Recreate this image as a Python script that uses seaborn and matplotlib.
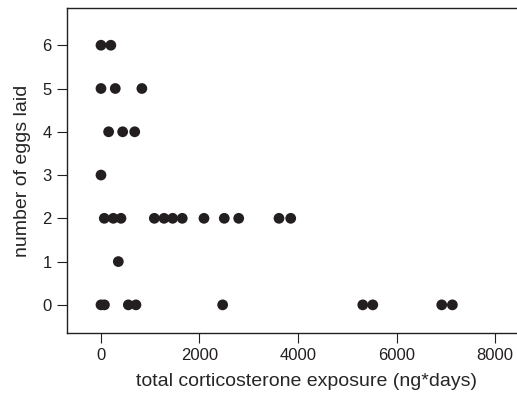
import numpy as np
import pandas as pd
import seaborn as sns
import matplotlib.pyplot as plt

sns.set_style('ticks')
plt.rcParams['font.family'] = ['Liberation Sans', 'DejaVu Sans']

# corticosterone exposure (ng*days) and eggs laid
exposure = [0, 200,
            0, 290, 830,
            155, 440, 685,
            0,
            67, 250, 406, 1083, 1280, 1455, 1650, 2091, 2503, 2796, 3614, 3852,
            352,
            0, 70, 555, 710, 2470, 5315, 5518, 6918, 7134]
eggs = [6, 6,
        5, 5, 5,
        4, 4, 4,
        3,
        2, 2, 2, 2, 2, 2, 2, 2, 2, 2, 2, 2,
        1,
        0, 0, 0, 0, 0, 0, 0, 0, 0]

df = pd.DataFrame({'exposure': exposure, 'eggs': eggs})

fig = plt.figure(figsize=(5.17, 3.93), dpi=100)
# the frame runs past the right edge of the image, as in the original
ax = fig.add_axes([0.1296, 0.1527, 0.9246, 0.8269])
sns.scatterplot(data=df, x='exposure', y='eggs', color='#231f20', s=60,
                edgecolor='none', ax=ax)

ax.set_xlim(-690, 9015)
ax.set_ylim(-0.65, 6.86)
ax.set_xticks([0, 2000, 4000, 6000, 8000])
ax.set_yticks(range(0, 7))
ax.tick_params(direction='out', length=7, width=0.8, labelsize=12,
               colors='#231f20', pad=4)
for side in ['left', 'bottom', 'top']:
    ax.spines[side].set_linewidth(1.0)
    ax.spines[side].set_color('#231f20')
ax.spines['right'].set_visible(False)

ax.set_xlabel('total corticosterone exposure (ng*days)', fontsize=14, labelpad=7)
ax.set_ylabel('number of eggs laid', fontsize=14, labelpad=8)

fig.savefig('out.png', dpi=100)
